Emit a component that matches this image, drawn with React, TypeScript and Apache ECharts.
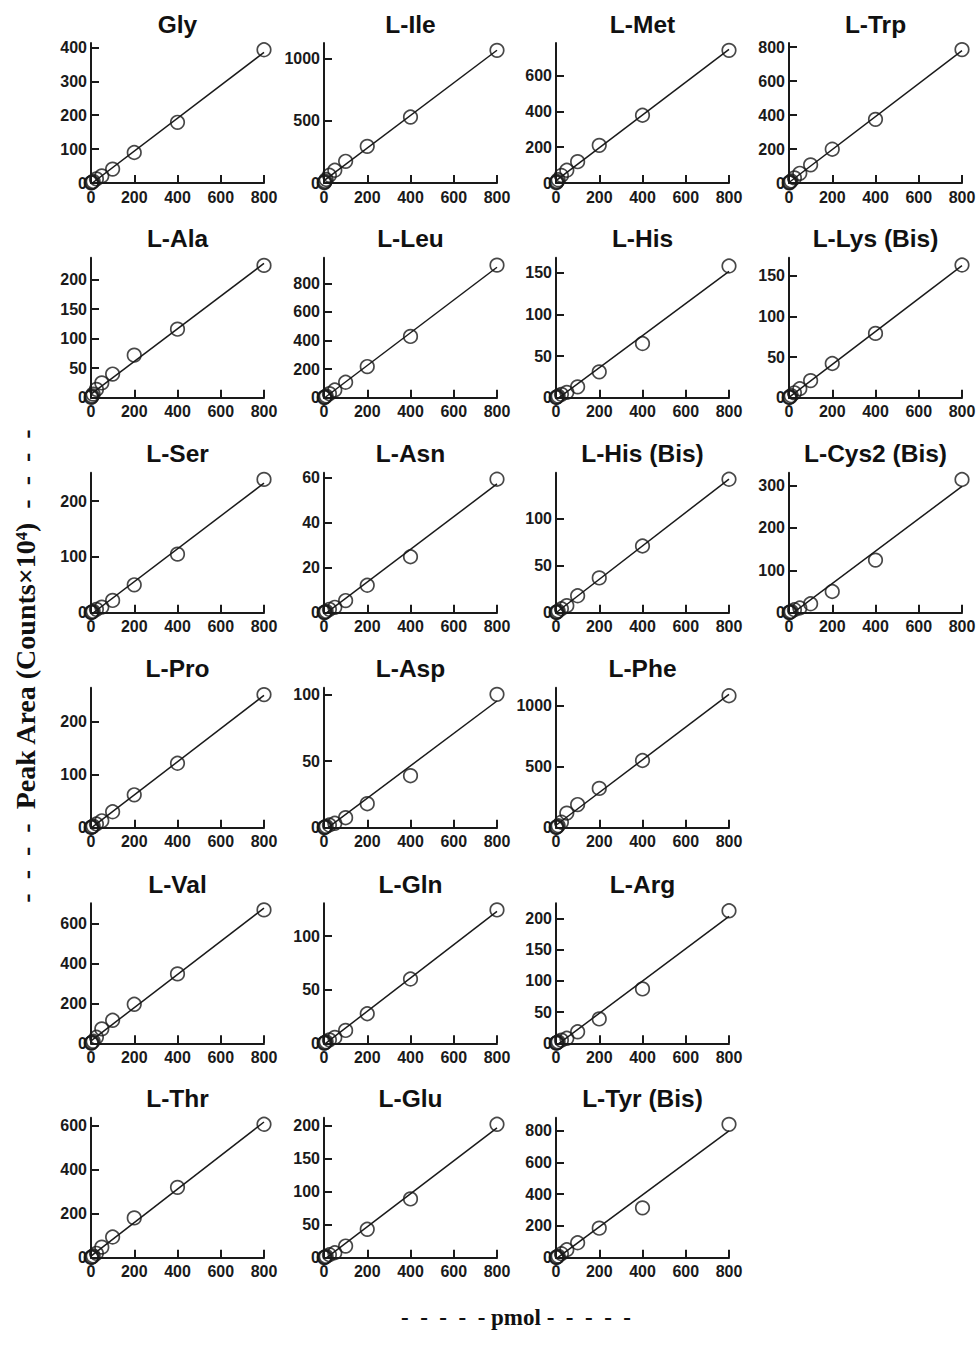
import React, { useEffect, useRef } from "react";
import * as echarts from "echarts";

// ---------- data ----------
const panelNames = [
  "Gly", "L-Ile", "L-Met", "L-Trp",
  "L-Ala", "L-Leu", "L-His", "L-Lys (Bis)",
  "L-Ser", "L-Asn", "L-His (Bis)", "L-Cys2 (Bis)",
  "L-Pro", "L-Asp", "L-Phe",
  "L-Val", "L-Gln", "L-Arg",
  "L-Thr", "L-Glu", "L-Tyr (Bis)",
];

// pmol injected
const amounts = [1, 2.5, 5, 10, 25, 50, 100, 200, 400, 800];

// peak area (counts x 10^4)
const gly = [0.5, 1.2, 2.3, 4.6, 12, 21, 41, 90, 179, 393];
const ile = [2, 6, 14, 28, 62, 102, 174, 294, 529, 1064];
const met = [1.5, 4, 9, 18, 42, 71, 119, 210, 378, 740];
const trp = [1, 2.5, 6, 12, 30, 57, 107, 199, 375, 786];
const ala = [0.5, 1.5, 3, 6, 14, 25, 40, 72, 116, 224];
const leu = [1, 3, 6, 12, 28, 54, 108, 218, 429, 928];
const his = [0.2, 0.5, 1, 2, 4, 6.4, 13, 31, 65, 158];
const lysBis = [0.2, 0.5, 1, 2.5, 6, 11, 21, 42, 79, 163];
const ser = [0.3, 0.7, 1.2, 2.5, 6, 10, 22, 50, 105, 239];
const asn = [0.06, 0.15, 0.3, 0.6, 1.5, 2.4, 5.4, 12.2, 24.9, 59.4];
const hisBis = [0.2, 0.4, 0.9, 1.8, 4.2, 7.5, 18, 37, 71, 142];
const cys2Bis = [0.3, 0.8, 1.5, 3, 7, 11, 21, 50, 124, 314];
const pro = [0.3, 0.8, 1.5, 3, 7, 13, 30, 62, 121.5, 251];
const asp = [0.1, 0.3, 0.5, 1, 2, 3.3, 7.5, 18, 39, 100];
const phe = [1.5, 4, 8, 16, 45, 120, 190, 323, 552, 1084];
const val = [1, 2.5, 5, 10, 30, 72, 115, 195, 347, 667];
const gln = [0.15, 0.4, 0.7, 1.4, 3.2, 5.5, 12, 27.6, 60, 124.5];
const arg = [0.2, 0.6, 1.2, 2.4, 5, 8, 18.4, 39, 87, 212];
const thr = [0.8, 2, 4, 8, 20, 48, 94, 181, 320, 607];
const glu = [0.2, 0.5, 1, 2, 4.5, 7.5, 17.6, 43, 89, 202];
const tyrBis = [1, 2.5, 5, 10, 25, 50, 94, 186, 314, 840];

const peakAreas = [
  gly, ile, met, trp,
  ala, leu, his, lysBis,
  ser, asn, hisBis, cys2Bis,
  pro, asp, phe,
  val, gln, arg,
  thr, glu, tyrBis,
];

// y-axis ranges and tick steps
const yAxisMax = [
  413, 1123, 781, 825,
  237, 980, 168, 172,
  251, 62.3, 149, 330,
  264, 105, 1150,
  700, 130.7, 224,
  637, 212, 882,
];
const yTickStep = [
  100, 500, 200, 200,
  50, 200, 50, 50,
  100, 20, 50, 100,
  100, 50, 500,
  200, 50, 50,
  200, 50, 200,
];

const xMax = 800;
const xTickStep = 200;

const NB = "\u00A0";
const xAxisTitle = `-${NB}${NB}-${NB}${NB}-${NB}${NB}-${NB}${NB}-${NB}pmol${NB}-${NB}${NB}-${NB}${NB}-${NB}${NB}-${NB}${NB}-`;
const yAxisTitle = `-${NB}${NB}-${NB}${NB}-${NB}${NB}-${NB}${NB}Peak Area (Counts\u00D710\u2074)${NB}${NB}-${NB}${NB}-${NB}${NB}-${NB}${NB}-`;

// ---------- layout ----------
const colLefts = [91, 324, 556, 789];
const rowBottoms = [183, 397.7, 612.7, 827.7, 1043.3, 1257.7];
const plotWidth = 173;
const plotHeight = 140;
const panelCells = [
  [0, 0], [0, 1], [0, 2], [0, 3],
  [1, 0], [1, 1], [1, 2], [1, 3],
  [2, 0], [2, 1], [2, 2], [2, 3],
  [3, 0], [3, 1], [3, 2],
  [4, 0], [4, 1], [4, 2],
  [5, 0], [5, 1], [5, 2],
];

const INK = "#1a1a1a";
const SANS = "'Liberation Sans', Arial, Helvetica, sans-serif";
const SERIF = "'Liberation Serif', 'Times New Roman', serif";

function linearFit(xs: number[], ys: number[]) {
  const n = xs.length;
  const mx = xs.reduce((a, b) => a + b, 0) / n;
  const my = ys.reduce((a, b) => a + b, 0) / n;
  let sxy = 0;
  let sxx = 0;
  for (let i = 0; i < n; i++) {
    sxy += (xs[i] - mx) * (ys[i] - my);
    sxx += (xs[i] - mx) * (xs[i] - mx);
  }
  const m = sxy / sxx;
  return { m, b: my - m * mx };
}

function ticksUpTo(max: number, step: number) {
  const out: number[] = [];
  for (let v = 0; v <= max + 1e-9; v += step) out.push(Math.round(v * 1000) / 1000);
  return out;
}

function buildOption() {
  const grids: any[] = [];
  const xAxes: any[] = [];
  const yAxes: any[] = [];
  const series: any[] = [];
  const graphics: any[] = [];

  panelNames.forEach((name, i) => {
    const [r, c] = panelCells[i];
    const left = colLefts[c];
    const top = rowBottoms[r] - plotHeight;
    grids.push({ left, top, width: plotWidth, height: plotHeight, containLabel: false });

    const axisLabelStyle = {
      color: INK,
      fontSize: 16,
      fontWeight: "bold",
      fontFamily: SANS,
      formatter: (v: number) => String(v),
    };

    xAxes.push({
      type: "value",
      gridIndex: i,
      min: 0,
      max: xMax,
      interval: xTickStep,
      axisLine: { show: true, onZero: false, lineStyle: { color: INK, width: 2 } },
      axisTick: { show: true, inside: true, length: 8, lineStyle: { color: INK, width: 2 } },
      axisLabel: { ...axisLabelStyle, margin: 6 },
      splitLine: { show: false },
    });

    const yt = ticksUpTo(yAxisMax[i], yTickStep[i]);
    yAxes.push({
      type: "value",
      gridIndex: i,
      min: 0,
      max: yAxisMax[i],
      interval: yTickStep[i],
      axisLine: { show: true, onZero: false, lineStyle: { color: INK, width: 2 } },
      axisTick: {
        show: true,
        inside: true,
        length: 8,
        lineStyle: { color: INK, width: 2 },
        customValues: yt,
      },
      axisLabel: { ...axisLabelStyle, margin: 4, customValues: yt },
      splitLine: { show: false },
    });

    const ys = peakAreas[i];
    const { m, b } = linearFit(amounts, ys);
    series.push({
      type: "line",
      xAxisIndex: i,
      yAxisIndex: i,
      data: [
        [0, b],
        [xMax, b + m * xMax],
      ],
      symbol: "none",
      silent: true,
      clip: true,
      lineStyle: { color: INK, width: 1.5 },
      z: 2,
    });
    series.push({
      type: "scatter",
      xAxisIndex: i,
      yAxisIndex: i,
      data: amounts.map((x, j) => [x, ys[j]]),
      symbol: "circle",
      symbolSize: 13.5,
      clip: false,
      itemStyle: { color: "rgba(255,255,255,0)", borderColor: INK, borderWidth: 1.7 },
      z: 3,
    });

    graphics.push({
      type: "text",
      x: left + plotWidth / 2,
      y: top - 19,
      style: {
        text: name,
        align: "center",
        verticalAlign: "middle",
        fontSize: 24.5,
        fontWeight: "bold",
        fontFamily: SANS,
        fill: "#111",
      },
    });
  });

  graphics.push({
    type: "text",
    x: 516,
    y: 1317,
    style: {
      text: xAxisTitle,
      align: "center",
      verticalAlign: "middle",
      fontSize: 23,
      fontWeight: "bold",
      fontFamily: SERIF,
      fill: "#111",
    },
  });
  graphics.push({
    type: "text",
    x: 25,
    y: 666,
    rotation: Math.PI / 2,
    style: {
      text: yAxisTitle,
      align: "center",
      verticalAlign: "middle",
      fontSize: 28,
      fontWeight: "bold",
      fontFamily: SERIF,
      fill: "#111",
    },
  });

  return {
    animation: false,
    backgroundColor: "#ffffff",
    grid: grids,
    xAxis: xAxes,
    yAxis: yAxes,
    series,
    graphic: graphics,
  };
}

export default function App() {
  const ref = useRef<HTMLDivElement>(null);
  useEffect(() => {
    if (!ref.current) return;
    const chart = echarts.init(ref.current, undefined, { renderer: "svg" });
    chart.setOption(buildOption() as any);
    return () => chart.dispose();
  }, []);
  return (
    <div
      ref={ref}
      style={{ position: "absolute", left: 0, top: 0, width: 979, height: 1347, background: "#fff" }}
    />
  );
}
